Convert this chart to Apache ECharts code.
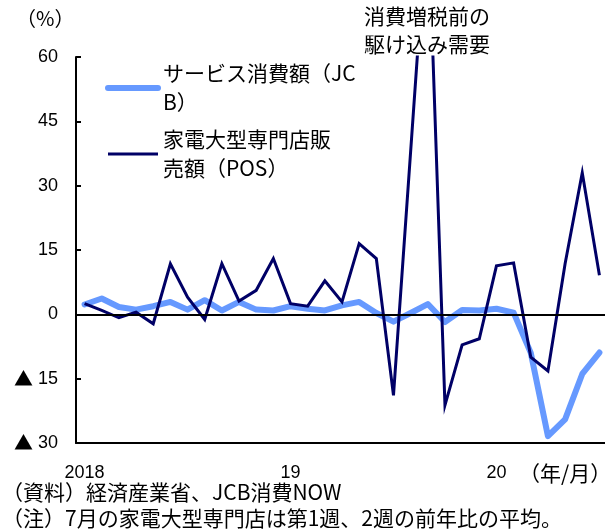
<!DOCTYPE html>
<html>
<head>
<meta charset="utf-8">
<script src="https://cdn.jsdelivr.net/npm/echarts@6/dist/echarts.min.js"></script>
<style>
  html, body { margin: 0; padding: 0; background: #fff; }
  #chart { width: 605px; height: 532px; }
</style>
</head>
<body>
<div id="chart"></div>
<script>
// Monthly categories, Jan 2018 – Jul 2020
const months = [
  '2018/01','2018/02','2018/03','2018/04','2018/05','2018/06','2018/07','2018/08','2018/09','2018/10','2018/11','2018/12',
  '2019/01','2019/02','2019/03','2019/04','2019/05','2019/06','2019/07','2019/08','2019/09','2019/10','2019/11','2019/12',
  '2020/01','2020/02','2020/03','2020/04','2020/05','2020/06','2020/07'
];
// Year labels shown under January of each year
const yearLabels = ['2018', '19', '20'];

// Year-on-year change, %
const jcbService = [
  2.3, 3.7, 1.7, 1.1, 1.9, 2.9, 1.1, 3.3, 0.9, 2.9, 1.1, 0.9,
  1.9, 1.3, 0.9, 2.1, 2.9, 0.3, -1.7, 0.3, 2.4, -1.8, 1.0, 0.9,
  1.3, 0.4, -9.0, -28.4, -24.5, -13.9, -8.9
];
// Aug 2019 has no reading; the line is joined across the gap
const applianceStores = [
  2.5, 0.9, -0.8, 0.5, -2.2, 11.8, 4.0, -1.2, 11.8, 3.1, 5.6, 13.0,
  2.5, 1.9, 7.8, 2.9, 16.5, 13.0, -18.9, null, 94.9, -21.2, -7.1, -5.7,
  11.3, 12.0, -10.0, -13.2, 11.8, 33.0, 9.1
];

const seriesNames = ['サービス消費額（JCB）', '家電大型専門店販売額（POS）'];
const legendLabels = {
  'サービス消費額（JCB）': 'サービス消費額（JC\nB）',
  '家電大型専門店販売額（POS）': '家電大型専門店販\n売額（POS）'
};

const CJK = '"Noto Sans CJK JP", sans-serif';
const LATIN = '"Liberation Sans", Arial, "Noto Sans CJK JP", sans-serif';

const chart = echarts.init(document.getElementById('chart'), null, { renderer: 'canvas' });

chart.setOption({
  animation: false,
  backgroundColor: '#fff',
  grid: { left: 76, right: -3, top: 57, bottom: 89, containLabel: false, outerBoundsMode: 'none' },
  xAxis: {
    type: 'category',
    data: months,
    boundaryGap: true,
    axisLine: { onZero: false, lineStyle: { color: '#000', width: 2 } },
    axisTick: { interval: 11, length: 6, lineStyle: { color: '#000', width: 2 } },
    axisLabel: {
      interval: 11,
      formatter: (v, i) => yearLabels[Math.round(i / 12)],
      fontFamily: LATIN, fontSize: 18, color: '#000', margin: 21
    },
    splitLine: { show: false }
  },
  yAxis: {
    type: 'value',
    min: -30, max: 60, interval: 15,
    axisLine: { show: true, lineStyle: { color: '#000', width: 2 } },
    axisTick: { show: true, inside: true, length: 5, lineStyle: { color: '#000', width: 2 } },
    axisLabel: {
      // negative values are written with a ▲ mark
      formatter: v => (v < 0 ? '{tri|▲} ' + (-v) : String(v)),
      fontFamily: LATIN, fontSize: 18, color: '#000', margin: 18,
      rich: { tri: { fontFamily: CJK, fontSize: 19, color: '#000' } }
    },
    splitLine: { show: false }
  },
  legend: {
    orient: 'vertical',
    left: 105, top: 44.5,
    padding: 0,
    itemWidth: 50, itemHeight: 14, itemGap: -21,
    itemStyle: { opacity: 0 },
    selectedMode: false,
    formatter: name => legendLabels[name],
    textStyle: { fontFamily: CJK, fontSize: 21, color: '#000', lineHeight: 29, padding: [29, 0, 0, 0] },
    data: [
      { name: seriesNames[0], lineStyle: { width: 6, cap: 'round' } },
      { name: seriesNames[1], lineStyle: { width: 3 } }
    ]
  },
  graphic: [
    {
      type: 'text', left: 16, top: 8,
      style: { text: '（%）', font: '20px ' + CJK, fill: '#000' }
    },
    {
      type: 'text', left: 364, top: 2.5,
      style: { text: '消費増税前の\n駆け込み需要', font: '21px ' + CJK, lineHeight: 28, fill: '#000' }
    },
    {
      type: 'text', left: 519, top: 460,
      style: { text: '（年/月）', font: '21px ' + CJK, lineHeight: 26, fill: '#000' }
    },
    {
      type: 'text', left: 2, top: 478.7,
      style: {
        text: '（資料）経済産業省、JCB消費NOW\n（注）7月の家電大型専門店は第1週、2週の前年比の平均。',
        font: '21px ' + CJK, lineHeight: 26, fill: '#000'
      }
    }
  ],
  series: [
    {
      name: seriesNames[0],
      type: 'line',
      data: jcbService,
      symbol: 'none',
      z: 2,
      lineStyle: { color: '#6699ff', width: 6, cap: 'round', join: 'round' },
      itemStyle: { color: '#6699ff' },
      markLine: {
        silent: true,
        symbol: 'none',
        label: { show: false },
        lineStyle: { color: '#000', width: 2, type: 'solid' },
        data: [{ yAxis: 0 }]
      }
    },
    {
      name: seriesNames[1],
      type: 'line',
      data: applianceStores,
      connectNulls: true,
      symbol: 'none',
      z: 3,
      lineStyle: { color: '#000066', width: 3, join: 'miter' },
      itemStyle: { color: '#000066' }
    }
  ]
});
</script>
</body>
</html>
